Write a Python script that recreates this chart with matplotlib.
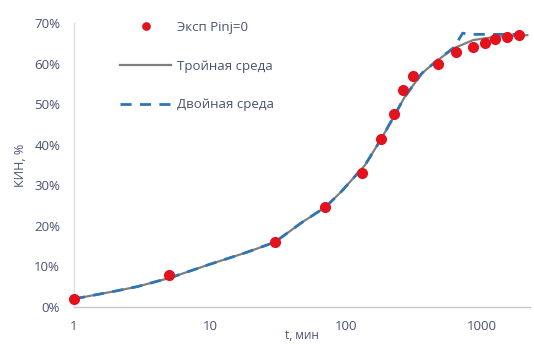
import matplotlib
matplotlib.use("Agg")
import matplotlib.pyplot as plt
from matplotlib.ticker import FixedLocator, FuncFormatter, NullLocator

plt.rcParams['font.family'] = ['Open Sans', 'DejaVu Sans']

# Experimental recovery factor, Pinj = 0
exp_t = [1, 5, 30, 70, 130, 180, 225, 262, 311, 475, 644, 859, 1052, 1247, 1528, 1871]
exp_kin = [0.020, 0.079, 0.160, 0.247, 0.330, 0.414, 0.475, 0.534, 0.569,
           0.600, 0.628, 0.640, 0.650, 0.660, 0.665, 0.670]

# Triple-porosity model
triple_t = [1, 1.93, 2.9, 5.1, 9.5, 18.7, 30, 46.7, 71, 92, 138, 181, 225, 270,
            361, 453, 622, 860, 1250, 2150]
triple_kin = [0.020, 0.038, 0.050, 0.072, 0.103, 0.135, 0.160, 0.207, 0.247, 0.284,
              0.350, 0.414, 0.470, 0.518, 0.576, 0.604, 0.638, 0.658, 0.666, 0.670]

# Dual-porosity model
dual_t = [1, 1.93, 2.9, 5.1, 9.5, 18.7, 30, 46.7, 71, 92, 138, 181, 225, 270,
          361, 453, 622, 720, 800, 1250, 2150]
dual_kin = [0.020, 0.038, 0.050, 0.072, 0.103, 0.135, 0.160, 0.207, 0.247, 0.284,
            0.350, 0.414, 0.470, 0.518, 0.576, 0.604, 0.640, 0.675, 0.672, 0.672, 0.672]

x_ticks = [1, 10, 100, 1000]
y_ticks = [0, 0.1, 0.2, 0.3, 0.4, 0.5, 0.6, 0.7]

text_color = '#4a5272'
fs = 9.5
W, H = 534, 344
fig = plt.figure(figsize=(W / 100, H / 100), dpi=100)
ax = fig.add_axes([74 / W, 1 - 307 / H, (530 - 74) / W, (307 - 23) / H])

ax.plot(triple_t, triple_kin, color='#7f7f7f', lw=1.6, label='Тройная среда', zorder=2)
ax.plot(dual_t, dual_kin, color='#2e75b6', lw=2.0, dashes=(4, 3),
        label='Двойная среда', zorder=3)
ax.plot(exp_t, exp_kin, 'o', color='#e3121c', ms=7, mec='#e3121c',
        label='Эксп Pinj=0', zorder=4, clip_on=False)

ax.set_xscale('log')
ax.set_xlim(1, 2250)
ax.set_ylim(0, 0.7)
ax.xaxis.set_major_locator(FixedLocator(x_ticks))
ax.xaxis.set_minor_locator(NullLocator())
ax.xaxis.set_major_formatter(FuncFormatter(lambda v, p: f'{v:g}'))
ax.yaxis.set_major_locator(FixedLocator(y_ticks))
ax.yaxis.set_major_formatter(FuncFormatter(lambda v, p: f'{v * 100:.0f}%'))

ax.tick_params(axis='both', length=0, labelsize=fs, colors=text_color)
ax.tick_params(axis='x', pad=9.5)
ax.tick_params(axis='y', pad=10)

for s in ('top', 'right'):
    ax.spines[s].set_visible(False)
ax.spines['bottom'].set_color('#c8c8c8')
ax.spines['bottom'].set_linewidth(1.0)
ax.spines['left'].set_color('#e0e0e0')
ax.spines['left'].set_linewidth(1.0)

ax.set_ylabel('КИН, %', fontsize=9, color=text_color, labelpad=5)
ax.set_xlabel('t, мин', fontsize=8.5, color=text_color, labelpad=-3)

handles, labels = ax.get_legend_handles_labels()
order = [2, 0, 1]
leg = fig.legend([handles[i] for i in order], [labels[i] for i in order],
                 loc='upper left', bbox_to_anchor=(120 / W, 1 - 21 / H),
                 frameon=False, fontsize=fs, labelspacing=1.95, handlelength=3.9,
                 handletextpad=0.45, borderpad=0, borderaxespad=0, numpoints=1,
                 markerscale=0.75)
for t in leg.get_texts():
    t.set_color(text_color)

fig.savefig('out.png', dpi=100)
